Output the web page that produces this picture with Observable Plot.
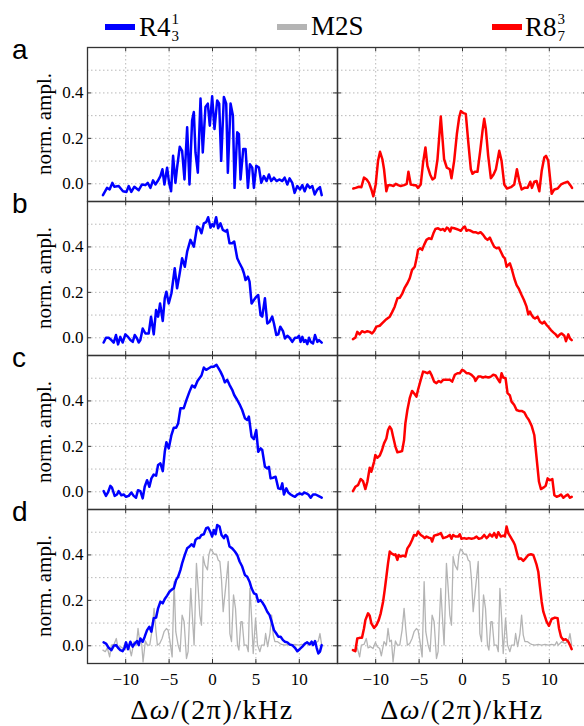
<!DOCTYPE html>
<html><head><meta charset="utf-8">
<script src="https://cdn.jsdelivr.net/npm/d3@7"></script>
<script src="https://cdn.jsdelivr.net/npm/@observablehq/plot@0.6"></script>
<style>
body{margin:0;background:#fff;}
#wrap{position:relative;width:584px;height:726px;overflow:hidden;background:#fff;}
.panel{position:absolute;}
.panel svg{max-width:none !important;display:block;}
.serif{position:absolute;font-family:"Liberation Serif",serif;color:#000;white-space:nowrap;line-height:1;}
.letter{position:absolute;font-family:"Liberation Sans",Arial,sans-serif;font-size:28px;line-height:28px;color:#000;}
.sw{position:absolute;height:6px;}
.stack{display:inline-block;vertical-align:middle;font-size:15px;line-height:17px;margin-left:1px;position:relative;top:-2px;}
.stack span{display:block;}
</style></head><body><div id="wrap"></div>
<script>
// ---- tick values / labels ----
const xTicks = [-10, -5, 0, 5, 10];
const yTickLabels = [0, 0.2, 0.4];
const yGrid = [0, 0.1, 0.2, 0.3, 0.4, 0.5];
const rowLetters = ["a", "b", "c", "d"];
const seriesNames = ["R4", "M2S", "R8"];
const seriesColors = ["#0000ff", "#b4b4b4", "#ff0000"];

// ---- data: [Δω/(2π) in kHz, norm. ampl.] ----
const r4a = [[-12.62,-0.050],[-12.15,-0.018],[-11.85,-0.025],[-11.54,0.004],[-11.31,-0.013],[-10.81,-0.010],[-10.31,-0.033],[-9.92,-0.036],[-9.65,-0.010],[-9.35,-0.036],[-9.00,-0.013],[-8.50,-0.028],[-8.12,-0.003],[-7.73,-0.006],[-7.46,0.004],[-7.15,-0.018],[-6.85,0.015],[-6.58,-0.003],[-6.31,0.012],[-6.00,0.034],[-5.77,0.064],[-5.54,-0.003],[-5.23,0.071],[-5.00,0.004],[-4.77,-0.033],[-4.54,0.123],[-4.27,0.004],[-4.08,0.071],[-3.77,0.163],[-3.50,0.145],[-3.23,0.019],[-2.92,0.249],[-2.65,-0.003],[-2.35,0.279],[-2.15,0.316],[-1.96,0.138],[-1.69,0.049],[-1.38,0.375],[-1.12,0.138],[-0.81,0.338],[-0.54,0.353],[-0.31,0.256],[-0.04,0.385],[0.23,0.241],[0.54,0.367],[0.77,0.353],[1.00,0.101],[1.31,0.382],[1.58,0.353],[1.77,0.049],[2.08,0.353],[2.35,0.301],[2.54,-0.018],[2.85,0.227],[3.04,0.219],[3.23,0.019],[3.54,0.153],[3.81,0.153],[4.08,-0.018],[4.31,0.086],[4.58,0.071],[4.77,-0.018],[5.04,0.079],[5.35,0.071],[5.62,0.004],[5.92,0.034],[6.23,0.012],[6.50,0.041],[6.77,0.012],[7.08,0.027],[7.38,0.012],[7.69,0.019],[8.04,0.012],[8.31,0.027],[8.62,-0.003],[8.88,0.024],[9.19,0.004],[9.46,-0.040],[9.77,-0.010],[10.08,-0.025],[10.35,-0.006],[10.62,-0.033],[10.92,-0.003],[11.23,-0.018],[11.50,-0.010],[11.77,-0.047],[12.08,-0.025],[12.38,-0.015],[12.58,-0.050]];

const r8a = [[-12.58,-0.021],[-12.31,-0.018],[-11.92,-0.013],[-11.65,-0.015],[-11.35,0.027],[-11.04,0.019],[-10.77,0.004],[-10.50,-0.025],[-10.27,-0.055],[-10.00,-0.003],[-9.73,0.101],[-9.50,0.141],[-9.23,0.108],[-9.04,0.064],[-8.77,-0.033],[-8.58,-0.006],[-8.27,-0.006],[-7.96,-0.010],[-7.69,0.000],[-7.42,-0.006],[-7.12,-0.010],[-6.73,-0.006],[-6.42,0.000],[-6.23,0.053],[-5.96,-0.003],[-5.65,-0.006],[-5.38,-0.006],[-5.12,-0.018],[-4.81,-0.003],[-4.54,0.093],[-4.27,0.160],[-4.04,0.079],[-3.73,0.041],[-3.46,0.019],[-3.19,0.027],[-2.88,0.108],[-2.50,0.296],[-2.12,0.108],[-1.81,0.071],[-1.46,0.064],[-1.27,0.024],[-0.96,0.101],[-0.65,0.219],[-0.38,0.293],[-0.19,0.320],[0.12,0.311],[0.38,0.308],[0.65,0.190],[0.96,0.064],[1.15,0.044],[1.42,0.053],[1.73,0.053],[2.04,0.145],[2.31,0.234],[2.50,0.286],[2.69,0.241],[2.96,0.123],[3.27,0.024],[3.58,0.041],[3.85,0.064],[4.23,0.145],[4.50,0.101],[4.81,-0.003],[5.12,-0.021],[5.58,-0.015],[5.96,-0.003],[6.27,0.064],[6.54,0.012],[6.81,-0.025],[7.12,-0.018],[7.50,-0.018],[7.81,0.009],[8.00,-0.018],[8.27,0.009],[8.54,0.012],[8.85,-0.033],[9.12,0.056],[9.42,0.116],[9.62,0.123],[9.88,0.101],[10.12,0.012],[10.27,-0.044],[10.58,-0.025],[10.96,-0.021],[11.35,-0.003],[11.73,0.004],[12.12,0.009],[12.42,-0.006],[12.62,-0.018]];

const r4b = [[-12.54,-0.021],[-12.27,0.000],[-11.96,0.000],[-11.65,-0.010],[-11.38,-0.021],[-11.12,0.012],[-10.88,-0.029],[-10.62,0.004],[-10.35,-0.021],[-10.04,0.015],[-9.73,0.004],[-9.46,-0.010],[-9.19,-0.018],[-8.96,0.012],[-8.69,-0.003],[-8.50,-0.021],[-8.31,-0.010],[-8.04,0.041],[-7.73,0.019],[-7.35,0.019],[-7.08,0.093],[-6.77,0.015],[-6.50,0.122],[-6.27,0.093],[-6.04,0.151],[-5.73,0.074],[-5.50,0.174],[-5.31,0.203],[-5.04,0.151],[-4.73,0.196],[-4.35,0.306],[-4.08,0.218],[-3.81,0.276],[-3.50,0.350],[-3.19,0.313],[-2.92,0.379],[-2.54,0.431],[-2.15,0.401],[-1.77,0.490],[-1.50,0.482],[-1.27,0.460],[-1.00,0.504],[-0.73,0.509],[-0.50,0.531],[-0.23,0.485],[-0.04,0.500],[0.15,0.490],[0.42,0.531],[0.65,0.482],[0.92,0.504],[1.19,0.475],[1.50,0.468],[1.69,0.475],[1.96,0.416],[2.27,0.416],[2.50,0.424],[2.85,0.350],[3.12,0.328],[3.42,0.306],[3.62,0.284],[3.81,0.254],[4.08,0.269],[4.27,0.247],[4.50,0.151],[4.77,0.166],[5.04,0.181],[5.27,0.188],[5.54,0.100],[5.73,0.093],[6.04,0.174],[6.31,0.063],[6.58,0.071],[6.88,0.093],[7.08,0.063],[7.35,0.012],[7.58,0.015],[7.81,0.049],[8.12,0.029],[8.35,-0.003],[8.62,0.009],[8.88,0.000],[9.19,-0.018],[9.50,0.000],[9.77,0.000],[9.96,0.009],[10.15,-0.018],[10.35,0.004],[10.54,-0.018],[10.73,-0.010],[10.92,-0.028],[11.12,0.000],[11.31,-0.018],[11.58,-0.025],[11.81,0.012],[12.08,-0.018],[12.27,-0.010],[12.58,-0.021]];

const r8b = [[-12.62,-0.006],[-12.35,0.000],[-12.12,0.026],[-11.85,0.015],[-11.58,0.029],[-11.27,0.024],[-10.96,0.029],[-10.69,0.026],[-10.42,0.019],[-10.19,0.029],[-9.92,0.049],[-9.54,0.053],[-9.15,0.068],[-8.77,0.082],[-8.38,0.093],[-8.12,0.112],[-7.81,0.137],[-7.50,0.174],[-7.23,0.176],[-6.92,0.196],[-6.65,0.221],[-6.35,0.240],[-6.08,0.262],[-5.81,0.299],[-5.50,0.313],[-5.27,0.353],[-5.12,0.387],[-4.88,0.394],[-4.65,0.387],[-4.42,0.409],[-4.15,0.431],[-3.88,0.438],[-3.58,0.435],[-3.35,0.460],[-3.12,0.479],[-2.81,0.482],[-2.50,0.475],[-2.23,0.479],[-2.04,0.471],[-1.81,0.485],[-1.65,0.482],[-1.42,0.468],[-1.27,0.485],[-0.96,0.482],[-0.69,0.479],[-0.42,0.475],[-0.19,0.471],[0.08,0.485],[0.27,0.490],[0.46,0.471],[0.65,0.475],[0.96,0.471],[1.23,0.465],[1.50,0.465],[1.81,0.460],[2.08,0.465],[2.38,0.453],[2.65,0.438],[2.88,0.431],[3.15,0.441],[3.35,0.424],[3.65,0.401],[3.92,0.394],[4.19,0.397],[4.42,0.379],[4.69,0.357],[4.88,0.350],[5.08,0.313],[5.27,0.321],[5.46,0.328],[5.65,0.306],[5.96,0.262],[6.23,0.232],[6.50,0.215],[6.81,0.188],[7.08,0.166],[7.38,0.137],[7.58,0.103],[7.77,0.115],[7.96,0.100],[8.15,0.090],[8.35,0.085],[8.65,0.093],[8.92,0.071],[9.19,0.063],[9.42,0.071],[9.69,0.056],[9.88,0.049],[10.19,0.034],[10.46,0.024],[10.73,0.015],[10.96,0.004],[11.23,0.015],[11.42,0.019],[11.73,0.009],[11.92,-0.015],[12.19,0.015],[12.38,-0.003],[12.58,-0.010]];

const r4c = [[-12.54,0.003],[-12.27,-0.018],[-12.04,-0.003],[-11.77,0.026],[-11.58,0.018],[-11.27,-0.018],[-11.00,-0.012],[-10.81,0.003],[-10.50,-0.015],[-10.23,-0.012],[-9.96,-0.022],[-9.65,-0.018],[-9.35,-0.003],[-9.08,-0.018],[-8.81,-0.026],[-8.58,0.007],[-8.31,0.003],[-8.04,-0.029],[-7.81,0.022],[-7.54,0.051],[-7.27,0.022],[-7.04,0.059],[-6.77,0.076],[-6.50,0.071],[-6.27,0.118],[-6.00,0.125],[-5.73,0.091],[-5.50,0.176],[-5.31,0.218],[-5.04,0.191],[-4.73,0.250],[-4.46,0.282],[-4.19,0.282],[-3.96,0.301],[-3.69,0.368],[-3.31,0.368],[-3.04,0.400],[-2.65,0.441],[-2.35,0.468],[-2.04,0.459],[-1.73,0.488],[-1.50,0.500],[-1.27,0.512],[-1.00,0.547],[-0.73,0.537],[-0.42,0.544],[-0.12,0.551],[0.15,0.551],[0.46,0.559],[0.65,0.547],[0.92,0.529],[1.19,0.507],[1.42,0.482],[1.69,0.493],[1.96,0.471],[2.27,0.449],[2.50,0.426],[2.85,0.404],[3.12,0.385],[3.42,0.360],[3.73,0.324],[4.00,0.316],[4.19,0.331],[4.50,0.243],[4.77,0.232],[5.04,0.272],[5.27,0.176],[5.54,0.191],[5.73,0.184],[6.04,0.110],[6.31,0.103],[6.50,0.110],[6.69,0.059],[6.96,0.062],[7.27,0.066],[7.58,0.015],[7.85,0.012],[8.04,0.037],[8.23,-0.012],[8.50,0.015],[8.73,-0.003],[9.00,-0.012],[9.27,-0.018],[9.50,-0.022],[9.77,-0.012],[10.04,-0.007],[10.35,-0.012],[10.54,-0.003],[10.81,-0.007],[11.04,-0.012],[11.31,-0.026],[11.58,-0.012],[11.88,-0.012],[12.19,-0.018],[12.58,-0.026]];

const r8c = [[-12.62,0.003],[-12.35,0.022],[-12.04,0.029],[-11.73,0.056],[-11.46,0.047],[-11.19,0.012],[-10.96,0.044],[-10.69,0.106],[-10.50,0.088],[-10.19,0.132],[-10.04,0.162],[-9.81,0.150],[-9.54,0.159],[-9.27,0.184],[-9.04,0.213],[-8.77,0.235],[-8.58,0.272],[-8.38,0.287],[-8.19,0.276],[-8.00,0.243],[-7.73,0.199],[-7.50,0.174],[-7.23,0.176],[-6.96,0.179],[-6.73,0.228],[-6.58,0.301],[-6.35,0.360],[-6.08,0.412],[-5.81,0.444],[-5.58,0.434],[-5.31,0.419],[-5.12,0.449],[-4.81,0.493],[-4.54,0.529],[-4.27,0.526],[-4.04,0.522],[-3.77,0.529],[-3.58,0.515],[-3.27,0.485],[-3.00,0.478],[-2.73,0.488],[-2.50,0.482],[-2.23,0.493],[-1.85,0.493],[-1.46,0.493],[-1.19,0.485],[-0.88,0.515],[-0.58,0.522],[-0.31,0.522],[-0.04,0.537],[0.19,0.532],[0.46,0.522],[0.73,0.522],[1.04,0.515],[1.35,0.503],[1.50,0.488],[1.81,0.507],[2.12,0.507],[2.38,0.503],[2.65,0.507],[2.96,0.503],[3.27,0.507],[3.54,0.515],[3.81,0.512],[4.12,0.493],[4.31,0.482],[4.50,0.522],[4.69,0.503],[4.96,0.500],[5.19,0.434],[5.46,0.424],[5.65,0.397],[5.96,0.382],[6.23,0.360],[6.50,0.356],[6.81,0.356],[7.12,0.350],[7.38,0.331],[7.65,0.316],[7.96,0.291],[8.27,0.250],[8.54,0.147],[8.81,0.044],[9.04,0.012],[9.31,0.018],[9.58,0.026],[9.81,0.059],[10.08,0.051],[10.35,0.056],[10.58,-0.015],[10.85,-0.022],[11.12,-0.018],[11.35,-0.012],[11.62,-0.026],[11.88,-0.018],[12.12,-0.012],[12.38,-0.026],[12.58,-0.022]];

const r4d = [[-12.54,0.015],[-12.27,0.010],[-11.96,-0.009],[-11.65,-0.019],[-11.38,0.000],[-11.12,0.003],[-10.88,-0.009],[-10.62,-0.019],[-10.35,-0.024],[-10.12,-0.009],[-9.96,0.015],[-9.73,-0.015],[-9.46,0.018],[-9.19,-0.004],[-8.96,0.010],[-8.69,0.021],[-8.50,0.003],[-8.31,0.032],[-8.04,0.018],[-7.81,0.040],[-7.54,0.069],[-7.27,0.084],[-7.04,0.062],[-6.77,0.121],[-6.50,0.124],[-6.27,0.165],[-6.00,0.194],[-5.73,0.187],[-5.50,0.206],[-5.23,0.221],[-4.96,0.238],[-4.73,0.246],[-4.46,0.253],[-4.19,0.290],[-3.96,0.304],[-3.69,0.334],[-3.50,0.363],[-3.19,0.400],[-2.92,0.429],[-2.65,0.437],[-2.42,0.447],[-2.15,0.437],[-1.96,0.466],[-1.73,0.474],[-1.50,0.474],[-1.27,0.488],[-1.00,0.491],[-0.73,0.518],[-0.50,0.521],[-0.23,0.500],[-0.04,0.481],[0.15,0.510],[0.35,0.491],[0.54,0.532],[0.81,0.525],[1.04,0.488],[1.31,0.474],[1.50,0.488],[1.69,0.481],[1.96,0.437],[2.27,0.429],[2.58,0.415],[2.85,0.400],[3.12,0.371],[3.42,0.349],[3.73,0.312],[4.00,0.304],[4.27,0.282],[4.50,0.253],[4.77,0.231],[5.04,0.226],[5.27,0.194],[5.54,0.201],[5.81,0.187],[6.04,0.172],[6.31,0.150],[6.58,0.135],[6.81,0.106],[7.08,0.069],[7.35,0.054],[7.58,0.040],[7.85,0.040],[8.12,0.025],[8.35,0.018],[8.62,0.015],[8.88,0.006],[9.19,0.003],[9.50,-0.009],[9.77,-0.024],[10.04,-0.015],[10.35,-0.004],[10.65,0.010],[10.92,0.015],[11.19,0.006],[11.42,0.018],[11.58,0.003],[11.81,0.021],[12.00,-0.009],[12.19,-0.034],[12.38,-0.026],[12.58,0.003]];

const r8d = [[-12.62,-0.019],[-12.35,-0.024],[-12.12,0.032],[-11.85,0.035],[-11.58,0.035],[-11.35,0.076],[-11.19,0.113],[-10.88,0.143],[-10.69,0.132],[-10.50,0.099],[-10.19,0.079],[-9.92,0.091],[-9.65,0.113],[-9.42,0.143],[-9.15,0.194],[-8.96,0.246],[-8.77,0.304],[-8.58,0.363],[-8.38,0.415],[-8.19,0.407],[-7.88,0.400],[-7.73,0.403],[-7.50,0.378],[-7.35,0.400],[-7.12,0.393],[-6.85,0.397],[-6.58,0.393],[-6.35,0.429],[-6.08,0.444],[-5.81,0.466],[-5.58,0.488],[-5.31,0.485],[-5.12,0.503],[-4.81,0.488],[-4.54,0.481],[-4.35,0.474],[-4.15,0.481],[-3.88,0.476],[-3.65,0.474],[-3.50,0.459],[-3.27,0.485],[-3.00,0.488],[-2.73,0.491],[-2.50,0.496],[-2.23,0.474],[-2.04,0.476],[-1.73,0.481],[-1.46,0.488],[-1.27,0.471],[-1.08,0.488],[-0.81,0.481],[-0.50,0.481],[-0.31,0.491],[-0.12,0.471],[0.19,0.474],[0.46,0.471],[0.73,0.474],[1.04,0.471],[1.35,0.474],[1.62,0.481],[1.88,0.471],[2.19,0.474],[2.50,0.488],[2.77,0.474],[2.96,0.481],[3.15,0.491],[3.42,0.481],[3.65,0.496],[3.92,0.476],[4.12,0.500],[4.42,0.481],[4.69,0.485],[4.88,0.481],[5.08,0.525],[5.27,0.496],[5.58,0.476],[5.85,0.459],[6.04,0.444],[6.35,0.397],[6.50,0.382],[6.73,0.385],[7.00,0.374],[7.27,0.385],[7.58,0.400],[7.88,0.403],[8.15,0.400],[8.35,0.378],[8.54,0.356],[8.73,0.326],[8.92,0.260],[9.12,0.194],[9.31,0.150],[9.50,0.128],[9.69,0.106],[9.96,0.088],[10.27,0.118],[10.65,0.124],[10.96,0.121],[11.12,0.076],[11.35,0.040],[11.62,0.025],[11.88,0.029],[12.19,0.018],[12.38,0.003],[12.58,-0.015]];

const m2s = [[-12.62,-0.019],[-12.35,-0.026],[-12.12,-0.009],[-11.85,-0.049],[-11.65,0.003],[-11.35,0.006],[-11.08,0.032],[-10.88,-0.009],[-10.58,-0.004],[-10.31,-0.012],[-10.04,0.015],[-9.81,-0.004],[-9.54,-0.012],[-9.35,-0.044],[-9.04,0.018],[-8.77,0.003],[-8.58,0.076],[-8.38,0.018],[-8.19,0.025],[-8.00,-0.071],[-7.73,0.021],[-7.50,0.003],[-7.23,0.003],[-6.96,0.069],[-6.73,0.165],[-6.54,0.076],[-6.35,0.003],[-6.08,0.010],[-5.81,0.032],[-5.58,0.062],[-5.31,0.076],[-5.12,0.069],[-4.92,0.025],[-4.65,-0.049],[-4.42,0.282],[-4.23,0.062],[-3.96,0.003],[-3.73,-0.026],[-3.50,0.135],[-3.27,0.106],[-3.00,-0.056],[-2.81,-0.026],[-2.50,0.253],[-2.35,0.150],[-2.12,0.003],[-1.85,0.363],[-1.65,0.253],[-1.46,0.135],[-1.27,0.091],[-1.08,0.393],[-0.88,0.356],[-0.58,0.334],[-0.42,0.400],[-0.23,0.426],[-0.04,0.418],[0.19,0.403],[0.46,0.403],[0.65,0.378],[0.85,0.371],[1.04,0.290],[1.23,0.150],[1.50,0.253],[1.81,0.371],[2.00,0.054],[2.19,0.018],[2.42,0.224],[2.65,0.165],[2.88,0.003],[3.04,-0.019],[3.27,0.106],[3.42,0.106],[3.65,0.003],[3.92,0.003],[4.12,-0.026],[4.31,0.253],[4.50,0.128],[4.69,-0.034],[4.96,0.121],[5.19,0.003],[5.46,-0.026],[5.65,0.003],[5.96,0.003],[6.12,0.054],[6.35,-0.004],[6.62,0.054],[6.81,0.135],[7.00,0.047],[7.19,0.018],[7.50,0.018],[7.77,0.010],[7.96,0.006],[8.35,0.003],[8.73,0.006],[9.12,0.003],[9.50,0.006],[9.88,0.003],[10.27,0.006],[10.65,0.003],[10.85,0.018],[11.04,0.003],[11.42,0.018],[11.81,0.010],[12.19,0.021],[12.38,0.054],[12.58,0.003]];

const leftSeries = [r4a, r4b, r4c, r4d];
const rightSeries = [r8a, r8b, r8c, r8d];

// ---- layout ----
const wrap = document.getElementById("wrap");
const PW = 250, PH = 154, TOP0 = 47, LEFT0 = 87, LEFT1 = 337;
const xDomain = [-14.4, 14.4], yDomain = [-0.078, 0.6];
const SERIF = "Liberation Serif";
const FRAME = "#333";
const tickDy = 4 / PH * (yDomain[1] - yDomain[0]);
const tickDx = 4 / PW * (xDomain[1] - xDomain[0]);

function panel(main, mainColor, gray, row, col) {
  const showY = col === 0, showX = row === 3;
  const ml = showY ? LEFT0 : 0;
  const mb = showX ? 34 : 0;
  const grid = {stroke: "#b8b8b8", strokeOpacity: 1, strokeWidth: 1, strokeDasharray: "1.5,2.5"};
  const marks = [
    Plot.gridX(xTicks, grid),
    Plot.gridY(yGrid, grid)
  ];
  if (gray) marks.push(Plot.line(gray, {x: d => d[0], y: d => d[1], stroke: seriesColors[1], strokeWidth: 1.3}));
  marks.push(Plot.line(main, {x: d => d[0], y: d => d[1], stroke: mainColor, strokeWidth: 2.5, strokeLinejoin: "round"}));
  // small inward ticks on the frame
  marks.push(Plot.ruleX(xTicks, {y1: yDomain[1], y2: yDomain[1] - tickDy, stroke: FRAME}));
  marks.push(Plot.ruleX(xTicks, {y1: yDomain[0], y2: yDomain[0] + tickDy, stroke: FRAME}));
  marks.push(Plot.ruleY(yTickLabels, {x1: xDomain[0], x2: xDomain[0] + tickDx, stroke: FRAME}));
  marks.push(Plot.ruleY(yTickLabels, {x1: xDomain[1], x2: xDomain[1] - tickDx, stroke: FRAME}));
  marks.push(Plot.frame({stroke: FRAME, strokeWidth: 1.3}));
  if (showY) marks.push(Plot.axisY(yTickLabels, {tickSize: 0, tickPadding: 4, tickFormat: d => d.toFixed(1), label: null, fontSize: 17, fontFamily: SERIF}));
  if (showX) marks.push(Plot.axisX(xTicks, {tickSize: 0, tickPadding: 9, label: null, fontSize: 17, fontFamily: SERIF}));
  const svg = Plot.plot({
    width: ml + PW, height: PH + mb,
    marginLeft: ml, marginRight: 0, marginTop: 0, marginBottom: mb,
    x: {domain: xDomain, axis: null},
    y: {domain: yDomain, axis: null},
    style: "background:transparent;overflow:visible;font-family:'Liberation Serif',serif;font-size:17px;color:#000;",
    marks
  });
  svg.querySelectorAll("text, g").forEach(el => {
    el.setAttribute("font-family", SERIF);
    el.setAttribute("font-size", "17");
    el.style.setProperty("font-family", "'Liberation Serif', serif", "important");
    el.style.setProperty("font-size", "17px", "important");
  });
  const div = document.createElement("div");
  div.className = "panel";
  div.style.left = (col === 0 ? 0 : LEFT1) + "px";
  div.style.top = (TOP0 + PH * row) + "px";
  div.style.width = (ml + PW) + "px";
  div.appendChild(svg);
  wrap.appendChild(div);
}

for (let r = 0; r < 4; r++) {
  panel(leftSeries[r], seriesColors[0], r === 3 ? m2s : null, r, 0);
  panel(rightSeries[r], seriesColors[2], r === 3 ? m2s : null, r, 1);
}

// ---- text overlays ----
function add(html, cls, css) {
  const el = document.createElement("div");
  el.className = cls;
  el.innerHTML = html;
  Object.assign(el.style, css);
  wrap.appendChild(el);
  return el;
}
rowLetters.forEach((t, i) => add(t, "letter", {left: "12px", top: (36 + PH * i) + "px"}));

// y-axis labels
for (let r = 0; r < 4; r++) {
  add("norm. ampl.", "serif", {fontSize: "21px", left: "44px", top: (TOP0 + PH * r + PH / 2) + "px",
    transform: "translate(-50%,-50%) rotate(-90deg)"});
}
// x-axis titles
[LEFT0 + PW / 2, LEFT1 + PW / 2].forEach(cx => {
  add("Δ<i>ω</i>/(2π)/kHz", "serif", {fontSize: "28px", letterSpacing: "1.5px", left: cx + "px", top: "710px",
    transform: "translate(-50%,-50%)"});
});
// legend
const legendItems = [
  {sw: 105, tx: 139, html: "R4<span class='stack'><span>1</span><span>3</span></span>", color: seriesColors[0]},
  {sw: 277, tx: 311, html: "M2S", color: seriesColors[1]},
  {sw: 492, tx: 525, html: "R8<span class='stack'><span>3</span><span>7</span></span>", color: seriesColors[2]}
];
legendItems.forEach(it => {
  add("", "sw", {left: it.sw + "px", top: "24px", width: "30px", background: it.color});
  add(it.html, "serif", {fontSize: "27px", left: it.tx + "px", top: "13px"});
});
</script></body></html>
